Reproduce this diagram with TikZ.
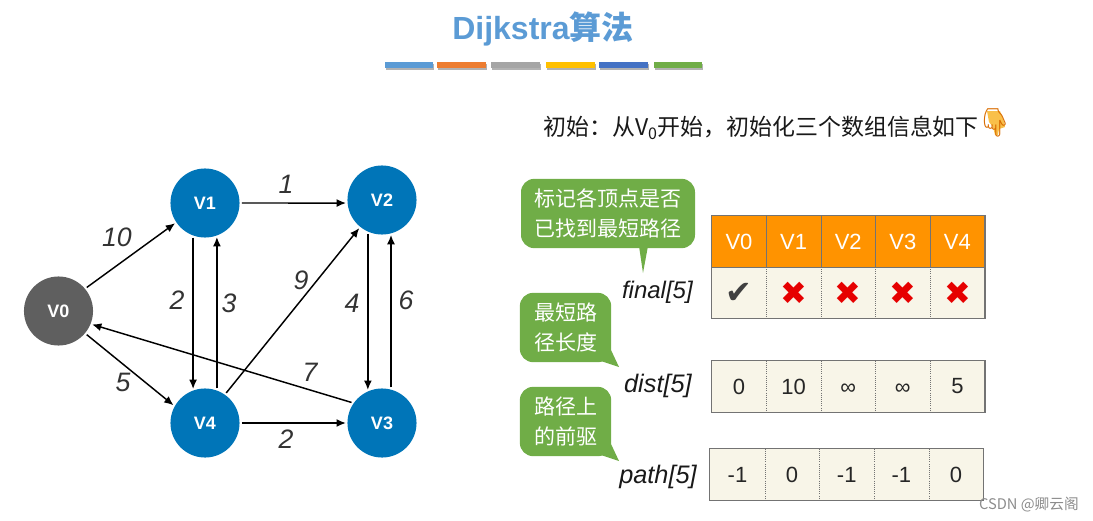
\documentclass[tikz,border=0pt]{standalone}
\usepackage{fontspec}
\usetikzlibrary{arrows.meta}
\setmainfont{Liberation Sans}
\newfontfamily\cjk{Noto Sans CJK SC}
\newfontfamily\dingfont{DejaVu Sans}
\newfontfamily\emojifont{Noto Emoji}
\definecolor{nodeblue}{HTML}{0075B8}
\definecolor{nodegray}{HTML}{5F5F5F}
\definecolor{tipgreen}{HTML}{70AD47}
\definecolor{headorange}{HTML}{FF9300}
\definecolor{cellcream}{HTML}{F8F5E8}
\definecolor{titleblue}{HTML}{5B9BD5}
\definecolor{crossred}{HTML}{E60000}
\definecolor{barorange}{HTML}{ED7D31}
\definecolor{bargray}{HTML}{A5A5A5}
\definecolor{baryellow}{HTML}{FFC000}
\definecolor{barblue}{HTML}{4472C4}
\definecolor{handyellow}{HTML}{F9C04A}
\tikzset{
    vertex/.style={circle, fill=nodeblue, text=white, minimum size=51.8pt, inner sep=0pt, font=\bfseries\fontsize{13.5}{16}\selectfont},
    edge/.style={-{Latex[length=7pt,width=6pt]}, line width=1.1pt, shorten <=1.5pt, shorten >=1pt},
    weight/.style={font=\itshape\fontsize{20}{24}\selectfont, text=black!80},
    tiplabel/.style={rounded corners=10pt, fill=tipgreen, text=white, inner sep=0pt, align=center, font=\cjk\fontsize{15.75}{22.5}\selectfont},
    headcell/.style={rectangle, fill=headorange, text=white, minimum width=41pt, minimum height=38.5pt, inner sep=0pt, font=\fontsize{16.5}{20}\selectfont},
    cell/.style={rectangle, fill=cellcream, text=black!85, minimum width=41pt, minimum height=38.5pt, inner sep=0pt, font=\fontsize{16.5}{20}\selectfont},
    arrayname/.style={inner sep=0pt, font=\itshape\fontsize{19}{22}\selectfont, text=black!90}
}
\begin{document}
\begin{tikzpicture}[x=0.75pt, y=-0.75pt]
    \useasboundingbox (0,0) rectangle (1093,521);

    % 标题
    \node[font=\bfseries\fontsize{24}{28}\selectfont, text=titleblue] (title) at (543,29) {Dijkstra{\cjk 算法}};
    \foreach \xa/\xb/\col in {385/433/titleblue, 437/486/barorange, 491/540/bargray, 546/595/baryellow, 599/648/barblue, 654/702/tipgreen} {
        \fill[black!30] (\xa+1,64) rectangle (\xb+1,70);
        \fill[\col] (\xa,62) rectangle (\xb,68);
    }

    % 说明
    \node[anchor=west, inner sep=0pt, font=\cjk\fontsize{17.2}{20}\selectfont, text=black!90] (intro) at (543,128) {初始：从V\textsubscript{0}开始，初始化三个数组信息如下};
    \fill[handyellow] (987,111) -- (1000,111) -- (1004,122) -- (1005,127) -- (999,129) -- (998,135) -- (995,135) -- (993,127) -- (989,122) -- cycle;
    \node[font=\emojifont\fontsize{21}{24}\selectfont, text=orange!85!black] (hand) at (995,123) {\symbol{"1F447}};

    % 顶点
    \node[vertex, fill=nodegray] (V0) at (58.5,311) {V0};
    \node[vertex] (V1) at (205,203) {V1};
    \node[vertex] (V2) at (382,200) {V2};
    \node[vertex] (V3) at (382,423) {V3};
    \node[vertex] (V4) at (205,423) {V4};

    % 边
    \draw[edge] (V0.40) -- (V1.214);
    \draw[edge] (V0.320) -- (V4.151);
    \draw[edge] (V1.0) -- (V2.185);
    \draw[edge] (V1.250) -- (V4.110);
    \draw[edge] (V4.70) -- (V1.290);
    \draw[edge] (V4.55) -- (V2.231);
    \draw[edge] (V2.246) -- (V3.114);
    \draw[edge] (V3.75) -- (V2.285);
    \draw[edge] (V4.0) -- (V3.180);
    \draw[edge] (V3.145) -- (V0.338);

    % 权值
    \foreach \name/\px/\py/\txt in {a/117/237/10, b/123/382/5, c/286/184/1, d/177/300/2, e/229/303/3, f/301/280/9, g/352/303/4, h/406/300/6, i/310/372/7, j/286/439/2} {
        \node[weight] (w\name) at (\px,\py) {\txt};
    }

    % 三个数组
    \foreach \i in {0,1,2,3,4} {
        \node[headcell] (head\i) at ({739+54.6*\i},241.5) {V\i};
    }
    \foreach \i/\txt in {0/\textcolor{black!75}{\symbol{"2714}},1/\textcolor{crossred}{\symbol{"2716}},2/\textcolor{crossred}{\symbol{"2716}},3/\textcolor{crossred}{\symbol{"2716}},4/\textcolor{crossred}{\symbol{"2716}}} {
        \node[cell, font=\dingfont\fontsize{24}{26}\selectfont] (final\i) at ({739+54.6*\i},293) {\txt};
    }
    \foreach \i/\txt in {0/0,1/10,2/\vphantom{0}\smash{\raisebox{-0.5pt}{∞}},3/\vphantom{0}\smash{\raisebox{-0.5pt}{∞}},4/5} {
        \node[cell] (dist\i) at ({739+54.6*\i},386.5) {\txt};
    }
    \foreach \i/\txt in {0/-1,1/0,2/-1,3/-1,4/0} {
        \node[cell] (path\i) at ({737.5+54.6*\i},474.5) {\txt};
    }
    \foreach \i in {0,1,2,3} {
        \draw[black!55, line width=0.6pt] (head\i.north east) -- (head\i.south east);
        \draw[black!55, densely dotted, line width=0.6pt] (final\i.north east) -- (final\i.south east);
        \draw[black!55, densely dotted, line width=0.6pt] (dist\i.north east) -- (dist\i.south east);
        \draw[black!55, densely dotted, line width=0.6pt] (path\i.north east) -- (path\i.south east);
    }
    \draw[black!55, line width=0.8pt] (head0.north west) rectangle (final4.south east);
    \draw[black!55, line width=0.6pt] (head0.south west) -- (head4.south east);
    \draw[black!55, line width=0.8pt] (dist0.north west) rectangle (dist4.south east);
    \draw[black!55, line width=0.8pt] (path0.north west) rectangle (path4.south east);

    \node[arrayname, anchor=east, font=\itshape\fontsize{18}{22}\selectfont] (finalname) at (693,292) {final[5]};
    \node[arrayname, anchor=east] (distname) at (692,386) {dist[5]};
    \node[arrayname, anchor=east] (pathname) at (697,477) {path[5]};

    % 气泡
    \fill[tipgreen] (639,246) -- (648,246) -- (643,273) -- cycle;
    \node[tiplabel, minimum width=130.5pt, minimum height=52pt] (tipfinal) at (608,213.5) {标记各顶点是否\\已找到最短路径};
    \fill[tipgreen] (611,350) -- (601,361) -- (619,367) -- cycle;
    \node[tiplabel, minimum width=68.5pt, minimum height=52pt] (tipdist) at (565.5,327.5) {最短路\\径长度};
    \fill[tipgreen] (611,444) -- (601,455) -- (619,461) -- cycle;
    \node[tiplabel, minimum width=68.5pt, minimum height=52pt] (tippath) at (565.5,421.5) {路径上\\的前驱};

    % 水印
    \node[anchor=east, inner sep=0pt, font=\cjk\fontsize{11}{12}\selectfont, text=black!45] (mark) at (1079,505) {CSDN @卿云阁};
\end{tikzpicture}
\end{document}
